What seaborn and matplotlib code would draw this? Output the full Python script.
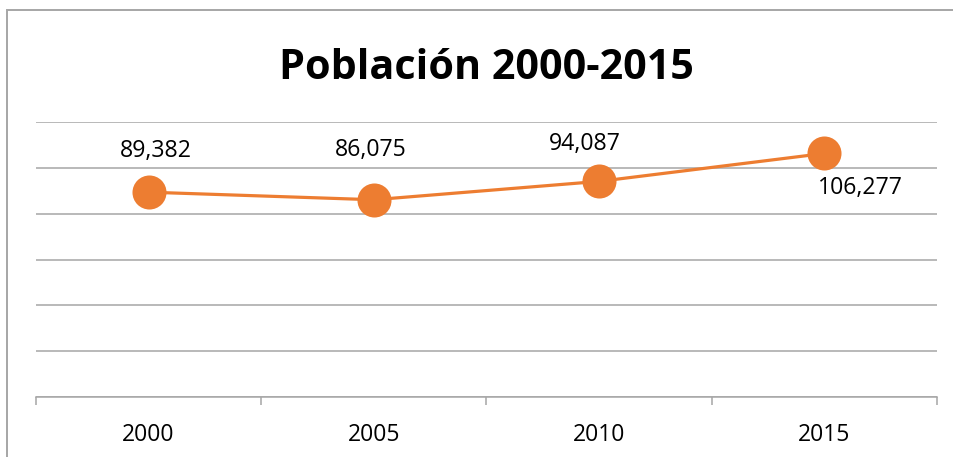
import numpy as np
import pandas as pd
import matplotlib
matplotlib.use('Agg')
import matplotlib.pyplot as plt
from matplotlib.patches import Rectangle
import seaborn as sns

# Data
years = ['2000', '2005', '2010', '2015']
population = [89382, 86075, 94087, 106277]

df = pd.DataFrame({'pos': np.arange(len(years)), 'population': population})

sns.set_theme(style='white')
plt.rcParams['font.family'] = ['Open Sans', 'DejaVu Sans']

orange = '#ED7D31'
grid_gray = '#A6A6A6'

fig = plt.figure(figsize=(9.54, 4.57), dpi=100)
W, H = 954, 457
ax = fig.add_axes([36 / W, 1 - 397 / H, (937 - 36) / W, (397 - 122) / H])

sns.lineplot(data=df, x='pos', y='population', ax=ax, color=orange,
             linewidth=2.3, marker='o', markersize=24.5,
             markeredgewidth=0, markerfacecolor=orange, zorder=3)

ax.set_xlim(-0.5, len(years) - 0.5)
ax.set_ylim(0, 120000)
ax.set_yticks(np.arange(0, 120001, 20000))
ax.yaxis.grid(True, color=grid_gray, linewidth=1.1)
ax.set_yticklabels([])
ax.tick_params(axis='y', length=0)

# category labels centered, ticks on the boundaries
ax.set_xticks(np.arange(len(years)))
ax.set_xticklabels(years, fontsize=16.5, color='#000000')
ax.set_xticks(np.arange(-0.5, len(years)), minor=True)
ax.tick_params(axis='x', which='major', length=0, pad=19)
ax.tick_params(axis='x', which='minor', length=6, width=1.1, color=grid_gray,
               direction='out', bottom=True)
ax.set_xlabel('')
ax.set_ylabel('')

for side in ['top', 'right', 'left']:
    ax.spines[side].set_visible(False)
ax.spines['bottom'].set_color(grid_gray)
ax.spines['bottom'].set_linewidth(1.1)

# data labels (offsets in pixels, Excel-like auto placement)
label_offsets = [(7, 41), (-3, 50), (-14, 37), (36, -35)]
for i, val in enumerate(population):
    dx, dy = label_offsets[i]
    ax.annotate(f'{val:,}', (i, val), xytext=(dx * 0.72, dy * 0.72),
                textcoords='offset points', ha='center', va='center',
                fontsize=16.7, color='#000000')

ax.set_title('Población 2000-2015', fontsize=29.7, fontweight='bold',
             color='#000000', pad=31)

# outer chart frame (cropped at right and bottom)
fig.add_artist(Rectangle((7 / W, -0.1), 2, 1 - 10 / H + 0.1,
                         transform=fig.transFigure, fill=False,
                         edgecolor=grid_gray, linewidth=1.4))

fig.savefig('out.png', dpi=100)
